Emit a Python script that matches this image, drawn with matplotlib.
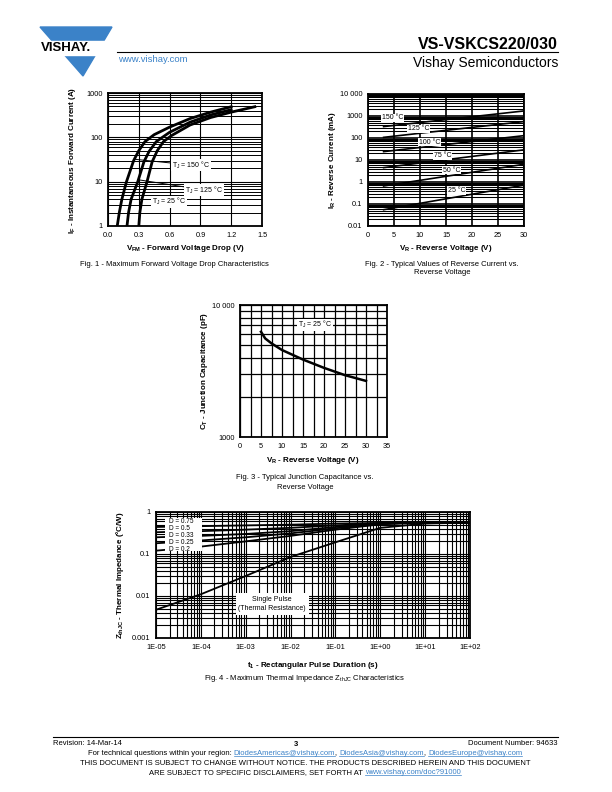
import numpy as np
import matplotlib
matplotlib.use("Agg")
import matplotlib.pyplot as plt
from matplotlib.lines import Line2D
from matplotlib.patches import Polygon, Rectangle

plt.rcParams['font.family'] = ['Liberation Sans', 'DejaVu Sans']
plt.rcParams['mathtext.default'] = 'regular'

W, H = 612, 792
BLUE = '#3b82c8'

# Fig. 1 - forward voltage drop
vf_150 = [0.09, 0.11, 0.135, 0.18, 0.25, 0.30, 0.36, 0.45, 0.6, 0.8, 1.0, 1.2]
if_150 = [1, 2, 4, 10, 30, 50, 80, 115, 170, 265, 370, 490]
vf_125 = [0.185, 0.20, 0.225, 0.29, 0.35, 0.40, 0.47, 0.6, 0.8, 1.0, 1.2]
if_125 = [1, 2, 4, 10, 28, 48, 80, 130, 220, 320, 420]
vf_25 = [0.30, 0.31, 0.33, 0.38, 0.43, 0.48, 0.54, 0.62, 0.8, 1.0, 1.2, 1.43]
if_25 = [1, 2, 4, 10, 28, 50, 80, 110, 190, 280, 370, 490]

# Fig. 2 - reverse current (mA) at 3 V and 30 V
vr_pts = [3, 30]
ir_curves = {
    '150 °C': [330, 1700],
    '125 °C': [107, 560],
    '100 °C': [24, 128],
    '75 °C': [4.5, 29],
    '50 °C': [0.66, 6.4],
    '25 °C': [0.055, 0.72],
}
ir_label_pos = {
    '150 °C': (4.7, 830),
    '125 °C': (9.7, 257),
    '100 °C': (11.8, 64),
    '75 °C': (14.3, 16),
    '50 °C': (16.1, 3.5),
    '25 °C': (17.1, 0.39),
}

# Fig. 3 - junction capacitance
vr_c = [5, 6, 7.5, 10, 15, 20, 25, 30]
ct = [6270, 5580, 5120, 4560, 3860, 3340, 2940, 2660]

# Fig. 4 - thermal impedance
t1 = [1e-5, 1e-4, 1e-3, 1e-2, 1e-1, 1, 10, 100]
zth = {
    'D = 0.75': [0.44, 0.46, 0.48, 0.50, 0.53, 0.55, 0.56, 0.56],
    'D = 0.5': [0.33, 0.35, 0.38, 0.42, 0.48, 0.54, 0.56, 0.56],
    'D = 0.33': [0.25, 0.27, 0.30, 0.35, 0.44, 0.53, 0.56, 0.56],
    'D = 0.25': [0.18, 0.21, 0.25, 0.31, 0.41, 0.52, 0.56, 0.56],
    'D = 0.2': [0.12, 0.15, 0.20, 0.27, 0.38, 0.51, 0.56, 0.56],
}
z_single = [0.0047, 0.011, 0.03, 0.085, 0.19, 0.42, 0.53, 0.56]

fig = plt.figure(figsize=(W / 100, H / 100), dpi=100)


def px_axes(x0, y0, x1, y1):
    return fig.add_axes([x0 / W, 1 - y1 / H, (x1 - x0) / W, (y1 - y0) / H])


def ftext(x, y, s, **kw):
    return fig.text(x / W, 1 - y / H, s, **kw)


def style(ax):
    for sp in ax.spines.values():
        sp.set_linewidth(1.3)
    ax.tick_params(which='both', length=0, labelsize=5.3, pad=4)


# ---------- header ----------
fig.add_artist(Polygon([(40 / W, 1 - 27 / H), (112 / W, 1 - 27 / H), (83 / W, 1 - 76 / H)],
                       closed=True, color=BLUE, transform=fig.transFigure))
fig.add_artist(Rectangle((40 / W, 1 - 55 / H), 72 / W, 14 / H, color='white',
                         transform=fig.transFigure))
ftext(41, 48, 'VISHAY.', fontsize=9.5, fontweight='bold', va='center', ha='left')
fig.add_artist(Line2D([117 / W, 558 / W], [1 - 52 / H, 1 - 52 / H], color='black', lw=0.8))
ftext(558, 49, 'VS-VSKCS220/030', fontsize=11.5, fontweight='bold', ha='right', va='baseline')
ftext(558, 67, 'Vishay Semiconductors', fontsize=10, ha='right', va='baseline')
ftext(118, 62, 'www.vishay.com', fontsize=6.8, color=BLUE, va='baseline')

# ---------- Fig. 1 ----------
ax1 = px_axes(108, 93, 262, 226)
ax1.set_yscale('log')
ax1.set_xlim(0, 1.5)
ax1.set_ylim(1, 1000)
ax1.set_xticks([0, 0.3, 0.6, 0.9, 1.2, 1.5])
ax1.set_xticklabels(['0.0', '0.3', '0.6', '0.9', '1.2', '1.5'])
ax1.set_yticks([1, 10, 100, 1000])
ax1.set_yticklabels(['1', '10', '100', '1000'])
ax1.grid(True, which='major', color='black', lw=0.8)
ax1.grid(True, which='minor', axis='y', color='black', lw=0.7)
ax1.plot(vf_150, if_150, color='black', lw=2, solid_joinstyle='round')
ax1.plot(vf_125, if_125, color='black', lw=2, solid_joinstyle='round')
ax1.plot(vf_25, if_25, color='black', lw=2, solid_joinstyle='round')
bb = dict(facecolor='white', edgecolor='none', pad=0.5)
ax1.annotate('T$_J$ = 150 °C', xy=(0.26, 32), xytext=(0.62, 23.7), fontsize=5, va='center',
             bbox=bb, arrowprops=dict(arrowstyle='-', lw=0.7, color='black', shrinkA=0, shrinkB=0))
ax1.annotate('T$_J$ = 125 °C', xy=(0.30, 11), xytext=(0.75, 6.5), fontsize=5, va='center',
             bbox=bb, arrowprops=dict(arrowstyle='-', lw=0.7, color='black', shrinkA=0, shrinkB=0))
ax1.text(0.425, 3.5, 'T$_J$ = 25 °C', fontsize=5, va='center', bbox=bb)
style(ax1)
ftext(185, 250, 'V$_{FM}$ - Forward Voltage Drop (V)', fontsize=5.8, fontweight='bold', ha='center')
ftext(72, 160, 'I$_F$ - Instantaneous Forward Current (A)', fontsize=5.8, fontweight='bold',
      rotation=90, ha='center', va='center')
ftext(174, 265, 'Fig. 1 - Maximum Forward Voltage Drop Characteristics', fontsize=5.5,
      ha='center', va='center')

# ---------- Fig. 2 ----------
ax2 = px_axes(368, 94, 524, 226)
ax2.set_yscale('log')
ax2.set_xlim(0, 30)
ax2.set_ylim(0.01, 10000)
ax2.set_xticks([0, 5, 10, 15, 20, 25, 30])
ax2.set_yticks([0.01, 0.1, 1, 10, 100, 1000, 10000])
ax2.set_yticklabels(['0.01', '0.1', '1', '10', '100', '1000', '10 000'])
ax2.grid(True, which='major', color='black', lw=1.2)
ax2.grid(True, which='minor', axis='y', color='black', lw=0.75)
for name, vals in ir_curves.items():
    ax2.plot(vr_pts, vals, color='black', lw=1.2)
    lx, ly = ir_label_pos[name]
    ax2.text(lx, ly, name, fontsize=5, ha='center', va='center', bbox=bb)
style(ax2)
ftext(446, 250, 'V$_R$ - Reverse Voltage (V)', fontsize=5.8, fontweight='bold', ha='center')
ftext(333, 160, 'I$_R$ - Reverse Current (mA)', fontsize=5.8, fontweight='bold',
      rotation=90, ha='center', va='center')
ftext(442, 265, 'Fig. 2 - Typical Values of Reverse Current vs.', fontsize=5.5, ha='center', va='center')
ftext(442, 273, 'Reverse Voltage', fontsize=5.5, ha='center', va='center')

# ---------- Fig. 3 ----------
ax3 = px_axes(240, 305, 387, 437)
ax3.set_yscale('log')
ax3.set_xlim(0, 35)
ax3.set_ylim(1000, 10000)
ax3.set_xticks([0, 5, 10, 15, 20, 25, 30, 35])
ax3.set_xticks(np.arange(2.5, 35, 5), minor=True)
ax3.set_yticks([1000, 10000])
ax3.set_yticklabels(['1000', '10 000'])
ax3.yaxis.set_minor_formatter(plt.NullFormatter())
ax3.grid(True, which='both', color='black', lw=0.9)
ax3.plot(vr_c, ct, color='black', lw=1.8, solid_joinstyle='round')
ax3.text(17.9, 7070, 'T$_J$ = 25 °C', fontsize=5, ha='center', va='center', bbox=bb)
style(ax3)
ftext(313, 462, 'V$_R$ - Reverse Voltage (V)', fontsize=5.8, fontweight='bold', ha='center')
ftext(204, 371, 'C$_T$ - Junction Capacitance (pF)', fontsize=5.8, fontweight='bold',
      rotation=90, ha='center', va='center')
ftext(305, 478, 'Fig. 3 - Typical Junction Capacitance vs.', fontsize=5.5, ha='center', va='center')
ftext(305, 487, 'Reverse Voltage', fontsize=5.5, ha='center', va='center')

# ---------- Fig. 4 ----------
ax4 = px_axes(156, 512, 470, 638)
ax4.set_xscale('log')
ax4.set_yscale('log')
ax4.set_xlim(1e-5, 1e2)
ax4.set_ylim(1e-3, 1)
ax4.set_xticks([1e-5, 1e-4, 1e-3, 1e-2, 1e-1, 1, 10, 100])
ax4.set_xticklabels(['1E-05', '1E-04', '1E-03', '1E-02', '1E-01', '1E+00', '1E+01', '1E+02'])
ax4.set_yticks([0.001, 0.01, 0.1, 1])
ax4.set_yticklabels(['0.001', '0.01', '0.1', '1'])
ax4.xaxis.set_minor_formatter(plt.NullFormatter())
ax4.yaxis.set_minor_formatter(plt.NullFormatter())
ax4.grid(True, which='both', color='black', lw=0.8)
for name, vals in zth.items():
    ax4.plot(t1, vals, color='black', lw=1.3)
ax4.plot(t1, z_single, color='black', lw=1.3)
ax4.add_patch(Rectangle((0.03, 0.69), 0.115, 0.26, transform=ax4.transAxes,
                        facecolor='white', edgecolor='none', zorder=3))
ax4.text(0.04, 0.815, '\n'.join(zth.keys()), transform=ax4.transAxes, fontsize=4.7,
         va='center', linespacing=0.98, zorder=4)
ax4.text(0.37, 0.27, 'Single Pulse\n(Thermal Resistance)', transform=ax4.transAxes,
         fontsize=5, ha='center', va='center', linespacing=1.4,
         bbox=dict(facecolor='white', edgecolor='none', pad=2), zorder=4)
style(ax4)
ftext(313, 667, 't$_1$ - Rectangular Pulse Duration (s)', fontsize=5.8, fontweight='bold', ha='center')
ftext(120, 575, 'Z$_{thJC}$ - Thermal Impedance (°C/W)', fontsize=5.8, fontweight='bold',
      rotation=90, ha='center', va='center')
ftext(305, 678, 'Fig. 4 - Maximum Thermal Impedance Z$_{thJC}$ Characteristics', fontsize=5.5,
      ha='center', va='center')

# ---------- footer ----------
fig.add_artist(Line2D([53 / W, 558 / W], [1 - 737 / H, 1 - 737 / H], color='black', lw=0.8))
ftext(53, 745, 'Revision: 14-Mar-14', fontsize=5.5, va='baseline')
ftext(296, 746, '3', fontsize=5.5, fontweight='bold', va='baseline', ha='center')
ftext(558, 745, 'Document Number: 94633', fontsize=5.5, va='baseline', ha='right')

renderer = fig.canvas.get_renderer()


def text_width(s, size):
    a = fig.text(0, 0, 'x' + s + 'x', fontsize=size)
    b = fig.text(0, 0, 'xx', fontsize=size)
    w = a.get_window_extent(renderer).width - b.get_window_extent(renderer).width
    a.remove()
    b.remove()
    return w


def seg_line(y, parts, xc, size=5.5):
    widths = [text_width(s, size) for s, _ in parts]
    x = xc - sum(widths) / 2
    for (s, link), w in zip(parts, widths):
        ftext(x, y, s, fontsize=size, va='baseline', color=BLUE if link else 'black')
        if link:
            fig.add_artist(Line2D([x / W, (x + w) / W], [1 - (y + 1.3) / H] * 2,
                                  color=BLUE, lw=0.5))
        x += w


seg_line(755, [('For technical questions within your region: ', False),
               ('DiodesAmericas@vishay.com', True), (', ', False),
               ('DiodesAsia@vishay.com', True), (', ', False),
               ('DiodesEurope@vishay.com', True)], 305)
ftext(305, 765, 'THIS DOCUMENT IS SUBJECT TO CHANGE WITHOUT NOTICE. THE PRODUCTS DESCRIBED HEREIN AND THIS DOCUMENT',
      fontsize=5.5, ha='center', va='baseline')
seg_line(774, [('ARE SUBJECT TO SPECIFIC DISCLAIMERS, SET FORTH AT ', False),
               ('www.vishay.com/doc?91000', True)], 305)

fig.savefig('out.png', dpi=100)
